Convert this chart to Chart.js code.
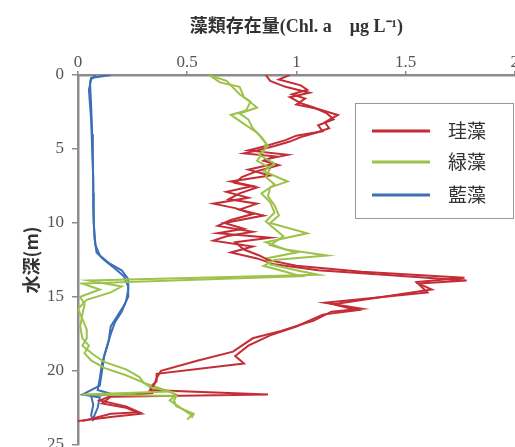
<!DOCTYPE html>
<html>
<head>
<meta charset="utf-8">
<script src="https://cdn.jsdelivr.net/npm/chart.js@4"></script>
<style>
  html, body { margin: 0; padding: 0; overflow: hidden; background: #fff; }
  #wrap { width: 517px; height: 463px; position: relative; }
</style>
</head>
<body>
<div id="wrap"><canvas id="c"></canvas></div>
<script>
// Vertical profiles of algal chlorophyll a (two casts per group)
const seriesNames = ['珪藻', '緑藻', '藍藻'];
const xTicks = [0, 0.5, 1, 1.5, 2];
const yTicks = [0, 5, 10, 15, 20, 25];

// 珪藻 (diatoms)
const diatomDepthA = [0,0.3,0.7,1.0,1.3,1.6,2.0,2.3,2.7,3.2,3.6,3.9,4.2,4.5,4.8,5.1,5.3,5.5,5.8,6.1,6.5,6.9,7.3,7.6,8.0,8.4,8.7,9.1,9.5,10.0,10.4,10.7,11.0,11.3,11.8,12.2,12.5,12.9,13.3,13.7,14.0,14.7,15.4,15.8,16.0,16.6,17.3,17.8,18.7,19.3,20.0,20.5,20.9,21.3,21.6,21.75,22.2,22.5,22.9,23.1,23.4];
const diatomValA   = [0.97,0.92,1.02,1.05,0.98,1.04,1.0,1.1,1.19,1.13,1.15,1.09,1.02,0.97,0.9,0.82,0.76,0.9,0.85,0.92,0.82,0.75,0.72,0.82,0.74,0.69,0.82,0.74,0.85,0.67,0.76,0.64,0.88,0.72,0.76,0.83,0.87,1.0,1.3,1.77,1.55,1.6,1.13,1.3,1.16,1.08,0.93,0.8,0.71,0.55,0.38,0.36,0.35,0.33,0.87,0.15,0.11,0.22,0.29,0.16,0.0];
const diatomDepthB = [0,0.4,0.8,1.2,1.5,1.9,2.2,2.6,3.0,3.4,3.8,4.1,4.4,4.8,5.1,5.4,5.7,6.0,6.4,6.8,7.2,7.5,7.9,8.3,8.7,9.0,9.4,9.8,10.2,10.6,10.9,11.2,11.6,12.0,12.4,12.8,13.2,13.5,13.9,14.1,14.5,15.5,15.9,16.2,17.0,17.6,18.3,19.0,19.5,20.2,20.7,21.1,21.5,21.7,22.0,22.4,22.8,22.9,23.4];
const diatomValB   = [0.86,0.88,0.95,1.06,0.97,1.02,1.08,1.14,1.17,1.1,1.12,1.0,0.95,0.86,0.78,0.96,0.86,0.9,0.78,0.88,0.7,0.8,0.68,0.78,0.62,0.72,0.8,0.7,0.64,0.8,0.68,0.62,0.8,0.7,0.82,0.9,1.1,1.4,1.78,1.56,1.62,1.17,1.28,1.12,1.0,0.88,0.78,0.72,0.76,0.36,0.36,0.33,0.34,0.15,0.1,0.22,0.28,0.15,0.02];

// 緑藻 (green algae)
const greenDepthA = [0,0.5,0.8,1.5,2.2,2.6,3.0,3.6,4.2,4.8,5.4,6.0,6.5,7.2,7.6,8.2,8.8,9.5,10.0,10.7,11.3,11.8,12.2,12.5,12.9,13.3,13.6,14.1,14.5,15.0,15.5,16.2,17.0,17.8,18.3,18.8,19.3,19.8,20.3,20.8,21.1,21.4,21.6,21.7,22.0,22.4,22.9,23.2];
const greenValA   = [0.6,0.65,0.74,0.76,0.82,0.74,0.78,0.8,0.84,0.87,0.83,0.9,0.85,0.96,0.88,0.87,0.9,0.92,0.88,1.05,0.86,0.95,1.14,0.9,0.85,0.95,1.02,0.02,0.1,0.01,0.03,0.02,0.01,0.02,0.05,0.03,0.06,0.12,0.22,0.3,0.33,0.42,0.02,0.45,0.44,0.45,0.53,0.52];
const greenDepthB = [0,0.4,0.7,1.3,1.8,2.4,2.7,3.3,3.9,4.6,5.2,5.8,6.3,6.9,7.4,8.0,8.6,9.3,9.9,10.4,10.9,11.5,12.0,12.4,12.8,13.2,13.5,13.9,14.3,14.7,15.2,15.8,16.5,17.2,17.8,18.3,18.9,19.4,19.9,20.4,20.8,21.2,21.6,22.0,22.6,23.0,23.3];
const greenValB   = [0.6,0.68,0.7,0.74,0.79,0.77,0.7,0.76,0.82,0.86,0.85,0.82,0.88,0.86,0.9,0.84,0.88,0.9,0.86,0.9,0.94,0.88,1.0,0.86,0.88,1.0,1.1,0.05,0.2,0.15,0.04,0.0,0.02,0.04,0.04,0.02,0.07,0.12,0.22,0.28,0.3,0.38,0.45,0.42,0.48,0.52,0.5];

// 藍藻 (cyanobacteria)
const blueDepthA = [0,0.2,0.5,2,4,6,8,10,11.5,12.2,12.7,13.2,13.8,14.5,15.3,16.0,16.7,17.5,18.5,19.5,20.5,21.3,21.6,21.7,22.3,23.0,23.4];
const blueValA   = [0.15,0.06,0.055,0.06,0.065,0.068,0.07,0.072,0.08,0.1,0.14,0.2,0.23,0.23,0.22,0.2,0.17,0.15,0.13,0.11,0.1,0.09,0.16,0.06,0.07,0.06,0.07];
const blueDepthB = [0,0.3,1,3,5,7,9,11,12,12.5,13.1,13.6,14.3,15.0,15.6,16.3,17.0,18.0,19.0,20.0,21.0,21.6,21.8,22.5,23.2];
const blueValB   = [0.08,0.06,0.05,0.06,0.065,0.07,0.07,0.075,0.085,0.12,0.17,0.21,0.23,0.23,0.21,0.18,0.15,0.14,0.12,0.11,0.1,0.02,0.1,0.09,0.07];

const seriesColors = ['#c42c36', '#9cc24a', '#3c6fb6'];

function profile(depths, values) {
  return depths.map((d, i) => ({ x: values[i], y: d }));
}

function trace(depths, values, idx) {
  return {
    label: seriesNames[idx],
    data: profile(depths, values),
    showLine: true,
    borderColor: seriesColors[idx],
    borderWidth: 2,
    pointRadius: 0,
    tension: 0,
    fill: false
  };
}

const datasets = [
  trace(greenDepthA, greenValA, 1),
  trace(diatomDepthA, diatomValA, 0),
  trace(greenDepthB, greenValB, 1),
  trace(diatomDepthB, diatomValB, 0),
  trace(blueDepthA, blueValA, 2),
  trace(blueDepthB, blueValB, 2)
];

const axisGray = '#8c8c8c';
const tickFont = { family: "'Liberation Serif', 'DejaVu Serif', serif", size: 17 };

// Framed legend placed inside the plot area
const boxedLegend = {
  id: 'boxedLegend',
  afterDraw(chart) {
    const ctx = chart.ctx;
    const bx = 355.5, by = 103.5, bw = 158, bh = 115;
    ctx.save();
    ctx.fillStyle = '#ffffff';
    ctx.fillRect(bx, by, bw, bh);
    ctx.strokeStyle = '#9a9a9a';
    ctx.lineWidth = 1;
    ctx.strokeRect(bx, by, bw, bh);
    const rows = [131, 162, 195];
    seriesNames.forEach((name, i) => {
      ctx.strokeStyle = seriesColors[i];
      ctx.lineWidth = 3;
      ctx.beginPath();
      ctx.moveTo(372, rows[i]);
      ctx.lineTo(430, rows[i]);
      ctx.stroke();
      ctx.fillStyle = '#333333';
      ctx.font = "19px 'Noto Sans CJK JP', sans-serif";
      ctx.textBaseline = 'middle';
      ctx.textAlign = 'left';
      ctx.fillText(name, 448, rows[i]);
    });
    ctx.restore();
  }
};

new Chart(document.getElementById('c'), {
  type: 'scatter',
  data: { datasets },
  plugins: [boxedLegend],
  options: {
    responsive: true,
    maintainAspectRatio: false,
    animation: false,
    layout: { padding: 0 },
    plugins: { legend: { display: false }, tooltip: { enabled: false } },
    scales: {
      x: {
        type: 'linear',
        position: 'top',
        min: 0,
        max: 2,
        afterBuildTicks: (s) => { s.ticks = xTicks.map(v => ({ value: v })); },
        afterFit: (s) => { s.height = 75; },
        ticks: {
          font: tickFont,
          color: '#555555',
          padding: -2,
          maxRotation: 0,
          callback: (v) => String(v)
        },
        grid: { display: true, drawOnChartArea: false, drawTicks: true, tickLength: 4, color: axisGray, lineWidth: 1.5 },
        border: { display: true, color: axisGray, width: 2.5 },
        title: {
          display: true,
          text: '藻類存在量(Chl. a　μg L⁻¹)',
          color: '#333333',
          font: { family: "'Liberation Serif', 'Noto Sans CJK JP', serif", size: 18, weight: 'bold' },
          padding: { top: 17, bottom: 0 }
        }
      },
      y: {
        type: 'linear',
        reverse: true,
        min: 0,
        max: 25,
        afterBuildTicks: (s) => { s.ticks = yTicks.map(v => ({ value: v })); },
        afterFit: (s) => { s.width = 78; },
        ticks: {
          font: tickFont,
          color: '#555555',
          padding: 8,
          callback: (v) => String(v)
        },
        grid: { display: true, drawOnChartArea: false, drawTicks: true, tickLength: 6, color: axisGray, lineWidth: 1.5 },
        border: { display: true, color: axisGray, width: 2.5 },
        title: {
          display: true,
          text: '水深(m)',
          color: '#333333',
          font: { family: "'Noto Sans CJK JP', serif", size: 18, weight: 'bold' },
          padding: { top: 20, bottom: 0 }
        }
      }
    }
  }
});
</script>
</body>
</html>
